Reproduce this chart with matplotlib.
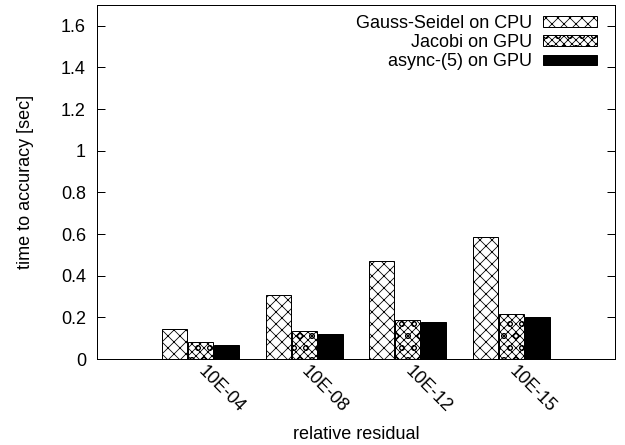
import matplotlib
matplotlib.use("Agg")
import matplotlib.pyplot as plt
import numpy as np

# relative residual targets on the x axis
residuals = ["10E-04", "10E-08", "10E-12", "10E-15"]

# time to accuracy [sec]
gauss_seidel_cpu = [0.142, 0.308, 0.469, 0.588]
jacobi_gpu = [0.080, 0.134, 0.188, 0.216]
async5_gpu = [0.069, 0.121, 0.176, 0.200]

SERIES = [
    ("Gauss-Seidel on CPU", gauss_seidel_cpu, "white", "xx"),
    ("Jacobi on GPU", jacobi_gpu, "white", "xxxo"),
    ("async-(5) on GPU", async5_gpu, "black", None),
]

plt.rcParams["font.family"] = ["Liberation Sans", "DejaVu Sans"]
plt.rcParams["font.size"] = 18
plt.rcParams["hatch.linewidth"] = 0.8

DPI = 72
fig = plt.figure(figsize=(625 / DPI, 445 / DPI), dpi=DPI)
ax = fig.add_axes([97 / 625, 86 / 445, 518 / 625, 354 / 445])

x = np.arange(1, len(residuals) + 1)
bar_w = 0.24
for i, (label, vals, color, hatch) in enumerate(SERIES):
    ax.bar(x + (i - 1) * 0.25, vals, bar_w, color=color, hatch=hatch,
           edgecolor="black", linewidth=1.0, label=label)

ax.set_xlim(0, 5)
ax.set_ylim(0, 1.7)
ticks = np.arange(0, 1.61, 0.2).round(1)
ax.set_yticks(ticks)
ax.set_yticklabels([f"{v:g}" for v in ticks])
ax.tick_params(axis="y", direction="in", length=8, width=1, right=True, pad=11)
ax.set_xticks(x)
ax.set_xticklabels(residuals, rotation=-45, ha="left", va="center",
                   rotation_mode="anchor")
ax.tick_params(axis="x", length=0, pad=10)
for s in ax.spines.values():
    s.set_linewidth(1.0)

ax.set_xlabel("relative residual", labelpad=10)
ax.set_ylabel("time to accuracy [sec]", labelpad=27)

ax.legend(loc="upper right", bbox_to_anchor=(1 - 18 / 518, 1 - 10 / 354),
          frameon=False, markerfirst=False, borderpad=0, borderaxespad=0,
          handlelength=3.0, handleheight=0.55, handletextpad=0.6,
          labelspacing=0.12)

fig.savefig("out.png", dpi=DPI)
